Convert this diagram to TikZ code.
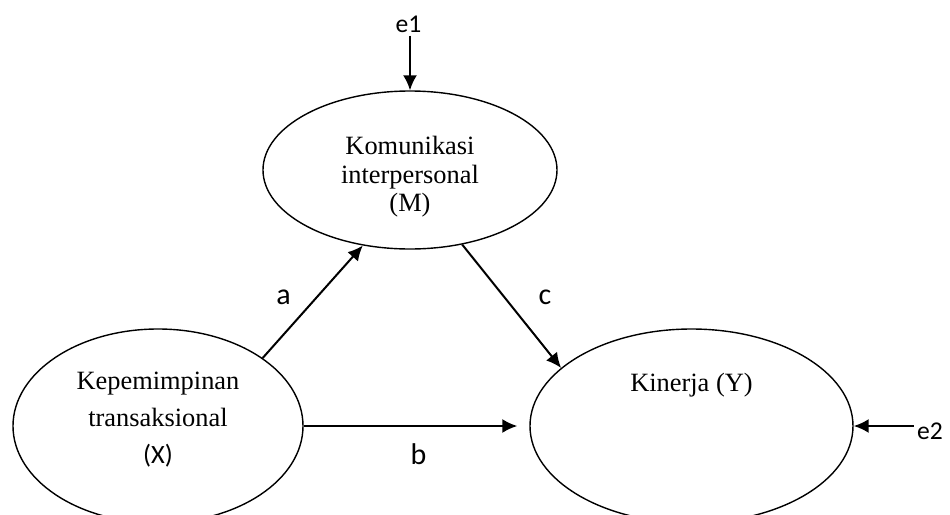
\documentclass[tikz,border=0pt]{standalone}
\usepackage{fontspec}
\setmainfont{Liberation Serif}
\newfontfamily\coeffont{Carlito}
\usetikzlibrary{arrows.meta,shapes.geometric}
\tikzset{
  latent/.style={draw=black, ellipse, inner sep=0pt, line width=0.7pt},
  vartext/.style={align=center, inner sep=0pt, font=\fontsize{13.2}{14.2}\selectfont},
  path/.style={-{Latex[length=7.5pt,width=7pt]}, line width=1pt, black},
  coef/.style={inner sep=1.5pt, font=\coeffont\fontsize{15}{17}\selectfont},
  error/.style={inner sep=1.5pt, font=\coeffont\fontsize{12.8}{15}\selectfont}
}

\begin{document}
\begin{tikzpicture}[x=0.5pt, y=-0.5pt]
    \useasboundingbox (0,0) rectangle (950,515);
    \clip (0,0) rectangle (950,515);

    \node[latent, minimum width=147pt, minimum height=79pt] (M) at (410,170) {};
    \node[latent, minimum width=145pt, minimum height=97pt] (X) at (158,426) {};
    \node[latent, minimum width=161.5pt, minimum height=97pt] (Y) at (691.5,426) {};

    \node[vartext] (Mtext) at (410,177) {Komunikasi\\interpersonal\\(M)};
    \node[vartext, font=\fontsize{13.2}{18.5}\selectfont] (Xtext) at (158,420) {Kepemimpinan\\transaksional\\{\coeffont (X)}};
    \node[vartext, anchor=base] (Ytext) at (691.5,391) {Kinerja (Y)};

    \node[error, anchor=base] (e1) at (408.5,32) {e1};
    \node[error, anchor=base] (e2) at (930,439) {e2};
    \node[coef, anchor=base] (a) at (283.5,304) {a};
    \node[coef, anchor=base] (b) at (418.5,464) {b};
    \node[coef, anchor=base] (c) at (545,304) {c};

    \draw[path] (X.33.6) -- (M.238);
    \draw[path] (M.305.5) -- (Y.156);
    \draw[path, shorten >=6pt] (X.east) -- (Y.west);
    \draw[path] (e1.south -| M.north) -- (M.north);
    \draw[path] (e2.west |- Y.east) -- (Y.east);
\end{tikzpicture}
\end{document}
